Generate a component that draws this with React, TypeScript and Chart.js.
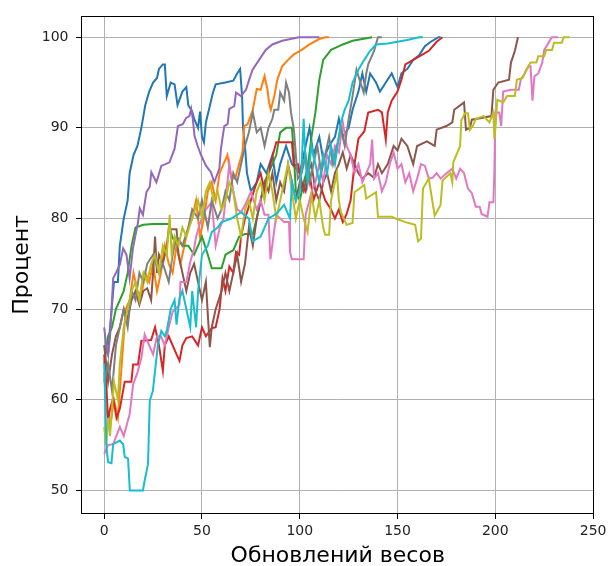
import React, { useEffect, useRef } from "react";
import { Chart, registerables } from "chart.js";

Chart.register(...registerables);

const xTicks = [0, 50, 100, 150, 200, 250];
const yTicks = [50, 60, 70, 80, 90, 100];
const xTitle = "Обновлений весов";
const yTitle = "Процент";

const blue = [
  [0, 66], [2, 65], [3, 68], [5, 73], [7, 73], [8, 77], [10, 80], [12, 82], [13, 85], [15, 87], [17, 88], [19, 90],
  [21, 92.5], [23, 94], [25, 95], [27, 95.5], [28, 96.5], [30, 97], [31, 97], [32, 93.5], [34, 95], [36, 94.8],
  [37.5, 92.5], [40, 94], [42, 94.5], [43, 92.5], [45, 91.8], [46, 91], [48, 90], [49, 91.8], [50, 89], [51, 88.4],
  [52, 90.6], [54, 92.4], [55.5, 93.8], [57, 94.8], [62, 95], [66, 95.2], [68, 96], [69.5, 96.5], [70.5, 93.5],
  [71, 90], [72, 88], [73, 85], [75, 83], [78, 84], [80, 86], [83, 85], [86, 87], [88, 84], [90, 86], [93, 88],
  [96, 86], [100, 85], [103, 88], [105, 90], [107, 87], [110, 89], [112, 86.5], [115, 88], [118, 89], [120, 91],
  [122, 89], [125, 90], [127, 92], [130, 94], [132, 96], [134, 94], [136, 96], [139, 95], [141, 94], [144, 95],
  [147, 96], [150, 94.5], [152, 96], [155, 96.5], [158, 97.5], [161, 98], [164, 99], [167, 99.5], [171, 100], [172, 100],
];

const orange = [
  [0, 63], [1, 59], [3, 57], [5, 60], [7, 58], [9, 64], [10, 67], [11, 70], [13, 71], [15, 74], [17, 72], [19, 71.5],
  [21, 74], [23, 73], [25, 75], [27, 72], [29, 74], [31, 77], [33, 75], [35, 74], [37, 77], [39, 75], [41, 77],
  [43, 79], [45, 80], [47, 82], [49, 78], [51, 80], [53, 83], [55, 84], [57, 82], [59, 85], [61, 86], [63, 87],
  [65, 84.5], [67, 84.4], [69, 86], [70.7, 87.3], [71.6, 90.2], [73.3, 90.4], [76, 92], [78, 94.3], [80, 94.2],
  [82, 95.7], [83.5, 94.2], [84.3, 92.8], [85.2, 92], [87, 93.5], [88.5, 95.3], [91, 96.8], [94, 97.5], [97, 98.1],
  [101, 98.6], [105, 99.2], [110, 99.8], [113, 100], [115, 100],
];

const green = [
  [0, 64], [2, 67], [4, 68], [6, 70], [8, 71], [10, 72], [12, 74], [14, 77], [16, 79], [20, 79.3], [25, 79.4],
  [33, 79.4], [35, 77.8], [38, 77.8], [40, 77], [43, 77], [46, 76], [50, 78], [53, 76], [55, 74.5], [60, 74.5],
  [62, 76], [66, 76.5], [69, 78], [72, 78.3], [76, 78.3], [78, 80], [80, 82], [82, 84], [84, 85], [86, 86], [88, 87],
  [90, 89.5], [93, 90], [96, 90], [97, 87], [98, 83], [100, 82], [102, 84], [104, 85.5], [106, 89], [108, 91.7],
  [110, 95.3], [112, 97.5], [116, 98.6], [122, 99.2], [127, 99.6], [137, 100],
];

const red = [
  [0, 65], [1, 62], [2, 57.7], [3, 59], [4.6, 60.2], [6.3, 58], [8, 59], [10.5, 62], [13.9, 62], [14.8, 63.9],
  [17.3, 63.9], [19, 66.5], [24, 66.6], [26, 68], [28, 66], [30, 63.2], [31, 66], [33, 67], [35, 66], [37, 65],
  [38.5, 64.3], [40, 66], [42, 66.8], [45, 67], [48, 66], [50, 68], [52, 67], [55, 67.9], [57, 68], [59, 70],
  [60.5, 73.4], [62, 72], [64, 74.7], [66, 74], [67.4, 76.3], [69, 76], [70, 78], [72, 80], [75, 82], [78, 84],
  [80, 85], [82, 83], [85, 86], [88, 88.4], [92, 88.4], [96, 88.4], [97, 85.8], [99, 86], [101, 84], [103, 83],
  [105, 85], [107, 82], [110, 84], [113, 82], [116, 81], [118, 80], [120, 81], [122, 79.6], [124, 80.5], [126, 82],
  [128, 86], [130, 88.8], [133, 89.6], [135, 91.7], [140, 92], [142, 91.7], [144, 88.7], [145, 91.7], [147, 93],
  [150, 94], [152, 95.3], [154, 97], [158, 97.5], [162, 98], [166, 98.5], [170, 99.5], [173, 100],
];

const purple = [
  [0, 68], [1, 66], [2, 65], [3, 67], [4.6, 73.4], [6, 74], [8, 74.9], [9.7, 76.7], [11.4, 76], [13, 73.4],
  [14.7, 76.7], [17.3, 79.6], [18.2, 81.1], [19.8, 80.4], [21.6, 82.9], [23.3, 83.5], [24.1, 85.1], [26.7, 84],
  [29.2, 85.8], [33.4, 86.2], [36, 87.7], [37.7, 90.2], [40.2, 90.4], [41.9, 91.1], [43.6, 91.3], [44.5, 92.1],
  [45.3, 91], [46.2, 89.1], [47.8, 88], [49.5, 87], [52.1, 85.8], [54.6, 85.1], [56.3, 84], [58.9, 85.5], [59.7, 87.7],
  [61.4, 90.2], [63.1, 90.4], [64, 92.1], [66.5, 92.4], [67.4, 93.9], [69.9, 93.5], [72.5, 94.2], [74.1, 95.3],
  [75.8, 96.4], [79.2, 97.5], [82.6, 98.6], [86, 99.2], [91, 99.6], [99.6, 100], [110, 100],
];

const brown = [
  [0, 66], [2, 62], [4, 65], [6, 67], [8, 68], [10, 70], [12, 69], [14, 71], [16, 72], [18, 70.5], [20, 72],
  [22, 72.3], [24, 71], [25, 74], [26, 78], [27, 74], [28, 76], [30, 75], [32, 77], [33, 78.8], [37, 78.8], [38, 76],
  [40, 74], [42, 72], [44, 74], [46, 75], [48, 73], [50, 71], [52, 73], [54, 65.8], [55, 68], [57, 70], [60, 72],
  [62, 74], [64, 72], [66, 74], [68, 76], [70, 73], [72, 75], [74, 79], [76, 77], [78, 80], [80, 82], [82, 84],
  [84, 83], [86, 85], [88, 82], [90, 84], [92, 83], [94, 86], [96, 84], [98, 82], [100, 84], [102, 83], [104, 85],
  [106, 86], [108, 83], [110, 82], [112, 84], [114, 85], [116, 83], [118, 85], [120, 86], [122, 87.3], [124, 85.5],
  [126, 87], [128, 86], [130, 85], [132, 84.4], [135, 85], [138, 84.5], [140, 86], [142, 85], [145, 86], [148, 88],
  [150, 87.5], [152, 88.8], [155, 88], [158, 86], [160, 88], [165, 88.5], [169, 88], [170, 89.8], [175, 90.2],
  [178, 90.6], [179, 92], [184, 92.8], [185, 89.8], [187, 90], [188, 90.9], [198, 91.3], [199, 94.2], [201.5, 95],
  [207, 95.3], [208, 97.2], [210, 98.5], [211.6, 100],
];

const pink = [
  [0, 54], [2, 55], [4.6, 55.1], [8, 57], [10, 56], [13, 58.4], [14.8, 61.7], [17, 63], [19, 64.6], [20.7, 67.2],
  [23, 66], [25, 65], [27, 67], [29, 67], [31, 66], [33, 68], [35, 69.7], [38.5, 70.5], [39, 73], [42, 73],
  [44, 75.2], [46, 76.7], [47, 78], [48.7, 79.3], [50, 80], [52, 81], [55, 81.8], [57, 77], [59, 78.9], [61, 80],
  [63, 84], [64, 86], [66, 83], [68, 81], [70, 80.7], [72, 81.5], [75, 82.9], [78, 81], [80, 82], [82, 80.4],
  [84, 80.4], [85, 75.5], [88, 80.4], [92, 79.6], [94.5, 79.6], [95, 76.3], [96, 75.5], [102, 75.5], [103, 80.4],
  [106, 82.9], [108, 84], [110, 86], [112, 84], [114, 87], [116, 86], [118, 88], [120, 87.3], [122, 90.6], [124, 88],
  [126, 87], [128, 85], [130, 86], [132, 84], [134, 85], [136, 86], [137, 88.7], [138, 84.4], [140, 85], [142, 83],
  [144, 84], [146, 86], [148, 87.3], [150, 85.5], [152, 86], [154, 84], [156, 85], [158, 83], [160, 84.4], [162, 86],
  [164, 85.8], [166, 84.4], [168, 84.5], [170, 85], [172, 84.4], [175, 85], [178, 85.5], [180, 84.4], [182, 85.5],
  [184, 85], [186, 83.3], [188, 82.8], [190, 81.3], [192, 81.3], [193, 80.5], [196, 80.2], [197, 81.8], [199, 81.8],
  [199.5, 85], [200, 91.7], [202, 91.7], [203, 90.2], [204, 94], [208, 94.2], [212, 94.2], [213, 95.3], [215, 96],
  [217, 96.8], [218, 96.8], [219, 93], [220, 95.7], [222, 96], [224, 97.2], [225, 98.6], [227, 99.3], [228, 99.7],
  [229, 100], [232, 100],
];

const gray = [
  [0, 62], [2, 64], [4, 61], [6, 66], [8, 68], [10, 70], [12, 68], [14, 72], [16, 71], [18, 74], [20, 73], [22, 75],
  [25, 76], [28, 74], [30, 75], [33, 73], [35, 76], [37, 78], [40, 77], [43, 79], [45, 81], [48, 80], [50, 82],
  [53, 79], [55, 82], [58, 80], [60, 81], [62, 83], [64, 82], [66, 85], [68, 84], [70, 86], [72, 88], [74, 89.5],
  [76, 91.7], [78, 89.5], [80, 90], [82, 88], [84, 90], [86, 91], [87, 92], [89, 92], [90, 93.9], [92, 93], [93, 95],
  [94.5, 93.9], [95.5, 91.7], [97, 89.8], [98, 87], [99, 84.4], [101, 85], [103, 87], [105, 84], [107, 86], [109, 88],
  [111, 85], [113, 87], [115, 89], [117, 86], [119, 88], [121, 90], [123, 88], [125, 91], [127, 93.5], [129, 96.4],
  [131, 95], [132.7, 93.9], [134, 96], [135, 97], [137, 98], [138, 98.5], [140, 100], [142, 100],
];

const olive = [
  [0, 57], [1, 55], [2, 58], [3, 56], [5, 62], [7, 60], [8, 64], [10, 68], [12, 70], [14, 72], [16, 73], [18, 71],
  [20, 74], [22, 73], [24, 75], [26, 76], [28, 74], [30, 77], [32, 76], [33.5, 80.4], [34.5, 76], [36, 78], [38, 77],
  [40, 79], [42, 78], [45, 80], [48, 82], [50, 80], [52, 83], [54, 84], [56, 82], [58, 83], [60, 81], [62, 82],
  [64, 84], [66, 83], [68, 80], [70, 78], [72, 81], [74, 82], [76, 80], [78, 83], [80, 84], [82, 82], [84, 85],
  [86, 83], [88, 80], [90, 82], [92, 84], [94, 86], [96, 83], [98, 80], [100, 82], [102, 80], [104, 78.5],
  [106, 82.6], [108, 80], [110, 82], [112, 79], [113, 78.2], [115, 78.2], [116, 82], [118, 84], [119, 85], [120, 82],
  [121, 80.7], [124, 79.3], [127, 79.5], [128, 82.9], [133, 83.7], [134, 82.2], [139, 82.9], [140, 80.2], [147, 80.2],
  [149, 80], [154, 79.6], [159, 79.3], [160.5, 77.5], [162, 77.8], [163, 83.3], [166, 84.4], [167, 83], [169, 80.3],
  [172, 81.5], [173, 84.2], [177, 85], [178, 84], [178.5, 86.2], [182, 88], [182.6, 90.8], [184.5, 91.6], [186, 91.6],
  [187, 89.8], [188.5, 90.2], [190, 91], [194, 91.3], [197, 90.6], [199, 91.7], [199.5, 88.8], [200, 89.8],
  [201, 93.1], [204, 92.8], [206, 93.5], [210, 93.5], [211, 95.3], [214, 95.5], [216, 96.5], [218, 97.2], [221, 97.2],
  [222, 97.9], [225, 97.9], [226, 98.6], [229, 98.6], [230, 99.4], [234, 99.4], [235, 100], [238, 100],
];

const cyan = [
  [0, 64], [1.2, 54.7], [2, 53.1], [3.7, 53], [4.6, 55.1], [8, 55.5], [9.7, 55.1], [10.5, 53.7], [12.2, 53.5],
  [13.1, 50], [19.8, 50], [20.7, 51.1], [22.4, 52.9], [23.3, 59.9], [24.9, 61], [25.8, 62.8], [27.5, 66.1],
  [29.2, 67.6], [31, 67], [32, 67.6], [34, 70], [36, 71], [37, 68.3], [38.5, 71.2], [40, 72], [42, 70], [44, 68],
  [45, 72], [47, 68], [48, 72], [50, 76], [53, 77], [55, 78.5], [58, 79], [60, 79.6], [65, 80], [70, 80.7], [74, 80],
  [76, 77.5], [80, 78], [84, 80], [88, 80.5], [92, 81.5], [95, 80], [96, 84], [98, 82], [100, 83], [101, 86],
  [102, 91], [103, 86], [104, 84], [106, 88], [108, 86], [110, 84], [112, 87], [114, 85], [116, 88], [118, 86],
  [120, 89], [121, 90.6], [123, 92], [125, 93], [127, 95], [130, 96.4], [133, 97.5], [136, 98.5], [139, 99.2],
  [145, 99.3], [150, 99.5], [155, 99.7], [161, 100], [163, 100],
];

const seriesList = [blue, orange, green, red, purple, brown, pink, gray, olive, cyan];
const seriesColors = ["#1f77b4", "#ff7f0e", "#2ca02c", "#d62728", "#9467bd", "#8c564b", "#e377c2", "#7f7f7f", "#bcbd22", "#17becf"];

const framePlugin = {
  id: "frame",
  afterDatasetsDraw(chart: any) {
    const { ctx, chartArea: a } = chart;
    ctx.save();
    ctx.strokeStyle = "#000";
    ctx.lineWidth = 1;
    const l = Math.round(a.left) + 0.5;
    const t = Math.round(a.top) + 0.5;
    const r = Math.round(a.right) - 0.5;
    const b = Math.round(a.bottom) - 0.5;
    ctx.strokeRect(l, t, r - l, b - t);
    ctx.restore();
  },
};

export default function App() {
  const ref = useRef<HTMLCanvasElement | null>(null);
  useEffect(() => {
    if (!ref.current) return;
    const font = '"DejaVu Sans", sans-serif';
    const chart = new Chart(ref.current, {
      type: "line",
      data: {
        datasets: seriesList.map((s, i) => ({
          data: s.map(([x, y]) => ({ x, y })),
          borderColor: seriesColors[i],
          backgroundColor: seriesColors[i],
          borderWidth: 2,
          pointRadius: 0,
          tension: 0,
          fill: false,
          order: seriesList.length - 1 - i,
        })),
      },
      options: {
        animation: false,
        responsive: false,
        devicePixelRatio: 1,
        layout: { padding: { top: 13, right: 13, left: 0, bottom: 0 } },
        plugins: { legend: { display: false }, tooltip: { enabled: false } },
        scales: {
          x: {
            type: "linear",
            min: -11.86,
            max: 250.7,
            afterBuildTicks: (scale: any) => {
              scale.ticks = xTicks.map((v) => ({ value: v }));
            },
            afterFit: (scale: any) => {
              scale.height = 52;
            },
            grid: { color: "#b0b0b0", lineWidth: 1, tickLength: 5, tickColor: "#000" },
            border: { display: false },
            ticks: { font: { family: font, size: 14 }, color: "#222", padding: 3.5, maxRotation: 0, autoSkip: false },
            title: {
              display: true,
              text: xTitle,
              color: "#000",
              font: { family: font, size: 22, lineHeight: 0.88 },
              padding: 0,
            },
          },
          y: {
            type: "linear",
            min: 47.4,
            max: 102.35,
            afterBuildTicks: (scale: any) => {
              scale.ticks = yTicks.map((v) => ({ value: v }));
            },
            afterFit: (scale: any) => {
              scale.width = 81;
            },
            grid: { color: "#b0b0b0", lineWidth: 1, tickLength: 5, tickColor: "#000" },
            border: { display: false },
            ticks: { font: { family: font, size: 14 }, color: "#222", padding: 7.5, autoSkip: false },
            title: {
              display: true,
              text: yTitle,
              color: "#000",
              font: { family: font, size: 22, lineHeight: 0.88 },
              padding: { top: 12.5, bottom: 0 },
            },
          },
        },
      },
      plugins: [framePlugin],
    } as any);
    return () => chart.destroy();
  }, []);
  return (
    <div style={{ position: "absolute", left: 0, top: 0, width: 610, height: 566, background: "#fff" }}>
      <canvas ref={ref} width={610} height={566} style={{ display: "block", width: 610, height: 566 }} />
    </div>
  );
}
